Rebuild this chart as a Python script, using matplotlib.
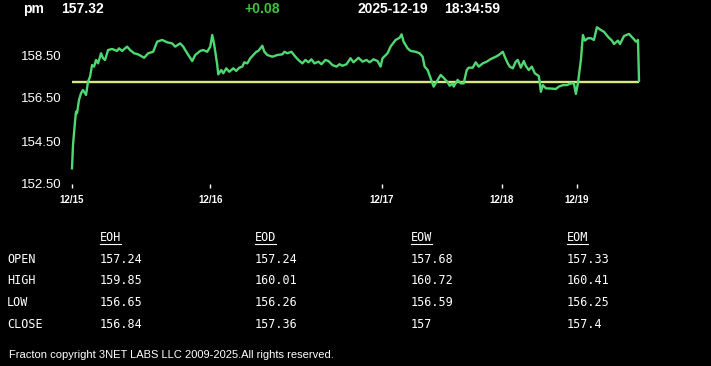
import numpy as np
import matplotlib
matplotlib.use("Agg")
import matplotlib.pyplot as plt
from matplotlib.lines import Line2D

# ------------------------------- DATA ---------------------------------------
SYMBOL, LAST, CHANGE = "pm", "157.32", "+0.08"
STAMP_DATE, STAMP_TIME = "2025-12-19", "18:34:59"

# bar index / price (5 sessions)
bar = [0, 1, 3, 4, 5, 7, 9, 11, 14, 16, 18, 20, 22, 24, 26, 29, 31, 33, 36, 40,
       45, 47, 50, 55, 58, 62, 66, 72, 76, 81, 85, 90, 95, 100, 103, 108, 111, 115, 120, 123,
       128, 131, 135, 138, 140, 142, 145, 146, 149, 151, 154, 157, 161, 164, 167, 170, 172, 175, 178, 181,
       184, 186, 188, 190, 192, 195, 200, 205, 210, 212, 215, 219, 223, 226, 230, 233, 236, 239, 242, 246,
       249, 253, 256, 260, 264, 267, 270, 274, 278, 281, 286, 290, 294, 297, 301, 305, 308, 310, 315, 318,
       323, 327, 329, 331, 335, 338, 343, 347, 350, 352, 355, 358, 361, 363, 368, 371, 375, 377, 380, 381,
       385, 388, 391, 394, 396, 400, 403, 406, 410, 414, 418, 423, 426, 430, 432, 435, 437, 440, 443, 445,
       448, 451, 453, 456, 459, 462, 466, 467, 468, 470, 473, 478, 483, 486, 490, 494, 498, 501, 503, 505,
       508, 510, 512, 515, 518, 521, 524, 528, 531, 535, 539, 541, 545, 547, 551, 556, 560, 563, 565, 566]
price = [153.23, 154.31, 155.40, 155.86, 155.79, 156.41, 156.72, 156.87, 156.64, 157.26,
         157.49, 158.03, 157.96, 158.27, 158.11, 158.58, 158.35, 158.27, 158.73, 158.78,
         158.69, 158.81, 158.69, 158.89, 158.73, 158.58, 158.53, 158.37, 158.58, 158.65,
         159.12, 159.20, 159.09, 159.04, 158.89, 159.04, 158.89, 158.58, 158.22, 158.50,
         158.69, 158.73, 158.65, 158.89, 159.43, 158.97, 158.03, 157.60, 157.80, 157.65,
         157.88, 157.72, 157.88, 157.76, 157.91, 157.96, 158.16, 158.11, 158.35, 158.50,
         158.65, 158.69, 158.81, 158.93, 158.65, 158.50, 158.42, 158.50, 158.53, 158.65,
         158.58, 158.65, 158.42, 158.27, 158.11, 158.27, 158.16, 158.30, 158.11, 158.19,
         158.07, 158.27, 158.22, 158.03, 157.96, 158.07, 158.00, 158.07, 158.35, 158.16,
         158.37, 158.19, 158.27, 158.16, 158.30, 158.22, 157.96, 158.35, 158.58, 158.89,
         159.20, 159.30, 159.46, 159.12, 158.81, 158.69, 158.65, 158.58, 158.42, 157.96,
         157.80, 157.42, 157.03, 157.18, 157.57, 157.44, 157.23, 157.07, 157.18, 157.03,
         157.34, 157.18, 157.18, 157.80, 157.91, 157.91, 158.16, 157.96, 158.11, 158.19,
         158.31, 158.42, 158.50, 158.65, 158.42, 158.11, 157.96, 157.88, 158.19, 158.27,
         157.91, 158.22, 157.99, 157.80, 157.96, 157.65, 157.52, 157.18, 156.79, 157.10,
         156.95, 156.94, 156.92, 157.03, 157.10, 157.10, 157.18, 157.18, 156.69, 157.18,
         158.27, 159.43, 159.17, 159.28, 159.28, 159.20, 159.79, 159.66, 159.58, 159.35,
         159.17, 159.01, 159.17, 159.01, 159.38, 159.48, 159.28, 159.12, 159.20, 157.30]
ref_price = 157.24

day_ticks = [0, 138, 309, 429, 504]
day_labels = ["12/15", "12/16", "12/17", "12/18", "12/19"]
price_ticks = [152.5, 154.5, 156.5, 158.5]

cols = ["EOH", "EOD", "EOW", "EOM"]
rows = ["OPEN", "HIGH", "LOW", "CLOSE"]
table = [["157.24", "157.24", "157.68", "157.33"],
         ["159.85", "160.01", "160.72", "160.41"],
         ["156.65", "156.26", "156.59", "156.25"],
         ["156.84", "157.36", "157", "157.4"]]
footer = "Fracton copyright 3NET LABS LLC 2009-2025.All rights reserved."

assert len(bar) == len(price)

# ------------------------------- FIGURE -------------------------------------
W, H = 711, 366
plt.rcParams['font.family'] = ['Liberation Sans', 'DejaVu Sans']
fig = plt.figure(figsize=(W / 100, H / 100), dpi=100, facecolor='black')

def fx(px): return px / W
def fy(py): return 1 - py / H

ax = fig.add_axes([fx(72), fy(184), fx(639) - fx(72), fy(22.75) - fy(184)])
ax.set_facecolor('black')
ax.plot(bar, price, color='#4fd872', lw=1.7, clip_on=False, zorder=3)
ax.hlines(ref_price, bar[0], bar[-1], color='#d9ea7c', lw=1.7, zorder=2)
ax.set_xlim(bar[0], bar[-1])
ax.set_ylim(152.5, 160.0)
for s in ax.spines.values():
    s.set_visible(False)
ax.set_yticks(price_ticks, [f"{v:.2f}" for v in price_ticks])
ax.tick_params(axis='y', length=0, pad=7.5, colors='white', labelsize=9.5)
ax.set_xticks(day_ticks, day_labels)
ax.tick_params(axis='x', length=3, width=1, color='white', pad=5,
               labelcolor='white', labelsize=7)
for t in ax.get_xticklabels():
    t.set_fontweight('bold')

# header
hdr = dict(color='white', fontsize=10, fontweight='bold', va='center', ha='left')
fig.text(fx(23), fy(9), SYMBOL, **hdr)
fig.text(fx(61), fy(9), LAST, **hdr)
fig.text(fx(244), fy(9), CHANGE, **{**hdr, 'color': '#3fc43f'})
fig.text(fx(357), fy(9), STAMP_DATE, **hdr)
fig.text(fx(444), fy(9), STAMP_TIME, **hdr)

# summary table
mono = dict(color='white', fontsize=8.5, family='DejaVu Sans Mono', va='center', ha='left')
col_x = [100, 255, 411, 567]
row_y = [259.5, 281, 302.5, 324]
heads = []
for cx, c in zip(col_x, cols):
    heads.append(fig.text(fx(cx), fy(238), c, **mono))
for ry, r, vals in zip(row_y, rows, table):
    fig.text(fx(7), fy(ry), r, **mono)
    for cx, v in zip(col_x, vals):
        fig.text(fx(cx), fy(ry), v, **mono)

fig.text(fx(9), fy(355.5), footer, color='white', fontsize=8, va='center', ha='left')

fig.canvas.draw()
for t in heads:
    bb = t.get_window_extent()
    fig.add_artist(Line2D([bb.x0, bb.x1], [bb.y0 + 0.5, bb.y0 + 0.5],
                          transform=None, color='white', lw=0.8))

fig.savefig('out.png', dpi=100, facecolor='black')
